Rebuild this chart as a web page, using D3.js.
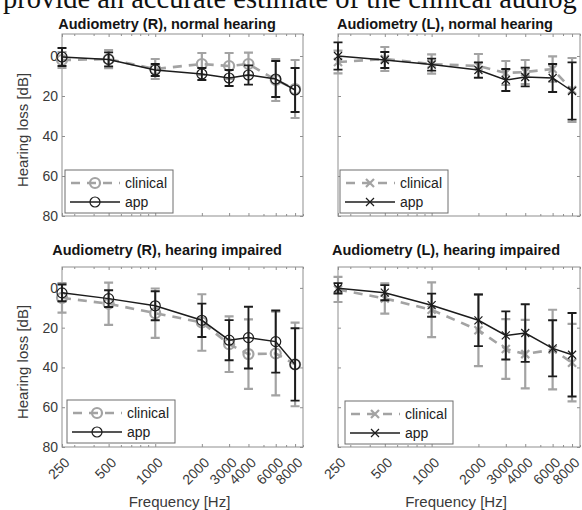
<!DOCTYPE html>
<html>
<head>
<meta charset="utf-8">
<script src="https://cdn.jsdelivr.net/npm/d3@7"></script>
<style>
  body { margin: 0; background: #fff; }
  svg { display: block; overflow: hidden; }
  text { font-family: "Liberation Sans", Arial, Helvetica, sans-serif; }
</style>
</head>
<body>
<svg id="chart" width="582" height="510"></svg>
<script>
// Test frequencies and axis ticks
const freqs = [250, 500, 1000, 2000, 3000, 4000, 6000, 8000];
const freqLabels = ["250", "500", "1000", "2000", "3000", "4000", "6000", "8000"];
const minorFreqs = [300, 400, 600, 700, 800, 900, 5000, 7000, 9000];
const dbTicks = [0, 20, 40, 60, 80];
const dbLabels = ["0", "20", "40", "60", "80"];

// Right ear, normal hearing: mean hearing loss [dB] and standard deviation
const rNormClinical   = [2, 1.6, 6.5, 4, 5, 4, 12, 16.5];
const rNormClinicalSD = [4, 4.5, 5, 5.5, 6.5, 5.7, 10.5, 14.5];
const rNormApp        = [0.5, 1.7, 7, 9, 11, 9.5, 11.5, 17];
const rNormAppSD      = [4.5, 3.5, 3, 3, 4, 4.8, 9, 11];

// Left ear, normal hearing
const lNormClinical   = [3, 1.5, 4, 5, 8.5, 8, 6.5, 17];
const lNormClinicalSD = [5.7, 6, 4.8, 6, 6, 6, 6.3, 16];
const lNormApp        = [0, 2, 4.3, 7, 12, 10.5, 11, 17.5];
const lNormAppSD      = [6.8, 4, 3, 3.8, 5.5, 4.7, 7, 14.3];

// Right ear, hearing impaired
const rImpClinical    = [5, 8, 12.7, 17.4, 28.3, 33.3, 33, 38.5];
const rImpClinicalSD  = [7.4, 10.6, 12.4, 14.2, 14, 17.5, 21, 21];
const rImpApp         = [2.5, 5.4, 9, 16.3, 26.3, 25, 27, 38.5];
const rImpAppSD       = [4.2, 4.2, 7.3, 8.4, 10.1, 15.5, 15.6, 18.2];

// Left ear, hearing impaired
const lImpClinical    = [0.8, 5.3, 11, 21.3, 30.7, 33.3, 31, 37.6];
const lImpClinicalSD  = [6.3, 7.6, 13.8, 18, 15, 17.2, 20, 19.5];
const lImpApp         = [0.2, 2.4, 8.7, 16.3, 23.9, 22.7, 30.4, 33.6];
const lImpAppSD       = [2.6, 3.8, 5.8, 13, 12.1, 14.5, 14.1, 21];

const seriesNames = ["clinical", "app"];
const titles = [
  "Audiometry (R), normal hearing",
  "Audiometry (L), normal hearing",
  "Audiometry (R), hearing impaired",
  "Audiometry (L), hearing impaired"
];

const GRAY = "#a3a3a3";
const DARK = "#1c1c1c";
const AXIS = "#8f8f8f";
const TEXT = "#3a3a3a";

const panels = [
  { title: titles[0], clin: rNormClinical, clinSD: rNormClinicalSD, app: rNormApp, appSD: rNormAppSD,
    marker: "circle", left: 62, right: 303, top: 34, bottom: 216, yMin: -11,
    titleX: 167, titleY: 29, yLabel: true, xLabels: false, legX: 65, legY: 170 },
  { title: titles[1], clin: lNormClinical, clinSD: lNormClinicalSD, app: lNormApp, appSD: lNormAppSD,
    marker: "cross", left: 338, right: 580, top: 34, bottom: 216, yMin: -11,
    titleX: 445, titleY: 29, yLabel: false, xLabels: false, legX: 340, legY: 170 },
  { title: titles[2], clin: rImpClinical, clinSD: rImpClinicalSD, app: rImpApp, appSD: rImpAppSD,
    marker: "circle", left: 62, right: 303, top: 267, bottom: 447, yMin: -10.5,
    titleX: 167, titleY: 255, yLabel: true, xLabels: true, legX: 67, legY: 400 },
  { title: titles[3], clin: lImpClinical, clinSD: lImpClinicalSD, app: lImpApp, appSD: lImpAppSD,
    marker: "cross", left: 338, right: 580, top: 267, bottom: 447, yMin: -10.5,
    titleX: 446, titleY: 255, yLabel: false, xLabels: true, legX: 345, legY: 401 }
];

const svg = d3.select("#chart");

// Running text of the page above the figure
svg.append("text")
  .attr("x", 3).attr("y", 8)
  .style("font-family", "'Liberation Serif', 'Times New Roman', serif")
  .style("font-size", "28.5px")
  .attr("fill", "#111")
  .text("provide an accurate estimate of the clinical audiog");

function drawMarker(g, cx, cy, type, color, width, size) {
  if (type === "circle") {
    g.append("circle").attr("cx", cx).attr("cy", cy).attr("r", size)
      .attr("fill", "none").attr("stroke", color).attr("stroke-width", width);
  } else {
    const s = size * 0.8;
    g.append("path")
      .attr("d", `M${cx - s},${cy - s}L${cx + s},${cy + s}M${cx - s},${cy + s}L${cx + s},${cy - s}`)
      .attr("fill", "none").attr("stroke", color).attr("stroke-width", width);
  }
}

panels.forEach(p => {
  const x = d3.scaleLog().domain([250, 9000]).range([p.left, p.right]);
  const y = d3.scaleLinear().domain([p.yMin, 80]).range([p.top, p.bottom]);
  const g = svg.append("g");

  // Axes box
  g.append("rect")
    .attr("x", p.left).attr("y", p.top)
    .attr("width", p.right - p.left).attr("height", p.bottom - p.top)
    .attr("fill", "#fff").attr("stroke", AXIS).attr("stroke-width", 1);

  // Inward ticks on all four sides
  const styleAxis = sel => {
    sel.select(".domain").remove();
    sel.selectAll(".tick line").attr("stroke", AXIS);
    sel.selectAll(".tick text").attr("fill", TEXT).style("font-size", "14px");
  };
  g.append("g").attr("transform", `translate(0,${p.bottom})`)
    .call(d3.axisBottom(x).tickValues(freqs).tickSize(-3).tickFormat(""))
    .call(styleAxis);
  g.append("g").attr("transform", `translate(0,${p.top})`)
    .call(d3.axisTop(x).tickValues(freqs).tickSize(-3).tickFormat(""))
    .call(styleAxis);
  g.append("g").attr("transform", `translate(0,${p.bottom})`)
    .call(d3.axisBottom(x).tickValues(minorFreqs).tickSize(-2).tickFormat(""))
    .call(styleAxis);
  g.append("g").attr("transform", `translate(0,${p.top})`)
    .call(d3.axisTop(x).tickValues(minorFreqs).tickSize(-2).tickFormat(""))
    .call(styleAxis);
  g.append("g").attr("transform", `translate(${p.left},0)`)
    .call(d3.axisLeft(y).tickValues(dbTicks).tickSize(-3).tickPadding(4)
      .tickFormat((d, i) => p.yLabel ? dbLabels[i] : ""))
    .call(styleAxis);
  g.append("g").attr("transform", `translate(${p.right},0)`)
    .call(d3.axisRight(y).tickValues(dbTicks).tickSize(-3).tickFormat(""))
    .call(styleAxis);

  // Rotated frequency labels
  if (p.xLabels) {
    g.selectAll("text.xlab").data(freqs).join("text")
      .attr("class", "xlab")
      .attr("transform", d => `translate(${x(d) + 5},${p.bottom + 13}) rotate(-45)`)
      .attr("text-anchor", "end")
      .attr("dominant-baseline", "central")
      .attr("fill", TEXT).style("font-size", "14px")
      .text((d, i) => freqLabels[i]);
    g.append("text")
      .attr("x", (p.left + p.right) / 2 - 3).attr("y", 507)
      .attr("text-anchor", "middle").attr("fill", TEXT).style("font-size", "15px")
      .text("Frequency [Hz]");
  }

  if (p.yLabel) {
    g.append("text")
      .attr("transform", `translate(28,${(p.top + p.bottom) / 2 + 5}) rotate(-90)`)
      .attr("text-anchor", "middle").attr("fill", TEXT).style("font-size", "15px")
      .text("Hearing loss [dB]");
  }

  // Title
  g.append("text")
    .attr("x", p.titleX).attr("y", p.titleY)
    .attr("text-anchor", "middle").attr("fill", "#151515")
    .style("font-size", "14.5px").style("font-weight", "bold")
    .text(p.title);

  const line = d3.line().x(d => x(d.f)).y(d => y(d.v));
  const clinPts = freqs.map((f, i) => ({ f, v: p.clin[i], sd: p.clinSD[i] }));
  const appPts = freqs.map((f, i) => ({ f, v: p.app[i], sd: p.appSD[i] }));

  const drawSeries = (pts, color, lw, dash, ebw, mw) => {
    const s = g.append("g");
    // error bars
    pts.forEach(d => {
      const cx = x(d.f), y0 = y(d.v - d.sd), y1 = y(d.v + d.sd);
      s.append("path")
        .attr("d", `M${cx},${y0}L${cx},${y1}M${cx - 4.5},${y0}L${cx + 4.5},${y0}M${cx - 4.5},${y1}L${cx + 4.5},${y1}`)
        .attr("fill", "none").attr("stroke", color).attr("stroke-width", ebw);
    });
    s.append("path").datum(pts).attr("d", line)
      .attr("fill", "none").attr("stroke", color).attr("stroke-width", lw)
      .attr("stroke-dasharray", dash);
    pts.forEach(d => drawMarker(s, x(d.f), y(d.v), p.marker, color, mw, 5));
  };
  drawSeries(clinPts, GRAY, 2.6, "9,7", 2.2, 2.2);
  drawSeries(appPts, DARK, 1.5, null, 1.9, 1.2);

  // Legend
  const lg = g.append("g").attr("transform", `translate(${p.legX},${p.legY})`);
  lg.append("rect").attr("width", 108).attr("height", 43)
    .attr("fill", "#fff").attr("stroke", "#6e6e6e").attr("stroke-width", 1);
  const rows = [
    { name: seriesNames[0], color: GRAY, lw: 2.6, dash: "9,7", mw: 2.2, cy: 13 },
    { name: seriesNames[1], color: DARK, lw: 1.5, dash: null, mw: 1.2, cy: 32 }
  ];
  rows.forEach(r => {
    lg.append("line").attr("x1", 5).attr("x2", 55).attr("y1", r.cy).attr("y2", r.cy)
      .attr("stroke", r.color).attr("stroke-width", r.lw).attr("stroke-dasharray", r.dash)
      .attr("stroke-dashoffset", r.dash ? -1 : null);
    drawMarker(lg, 30, r.cy, p.marker, r.color, r.mw, 5);
    lg.append("text").attr("x", 60).attr("y", r.cy).attr("dy", "0.35em")
      .attr("fill", "#222").style("font-size", "14px").text(r.name);
  });
});
</script>
</body>
</html>
